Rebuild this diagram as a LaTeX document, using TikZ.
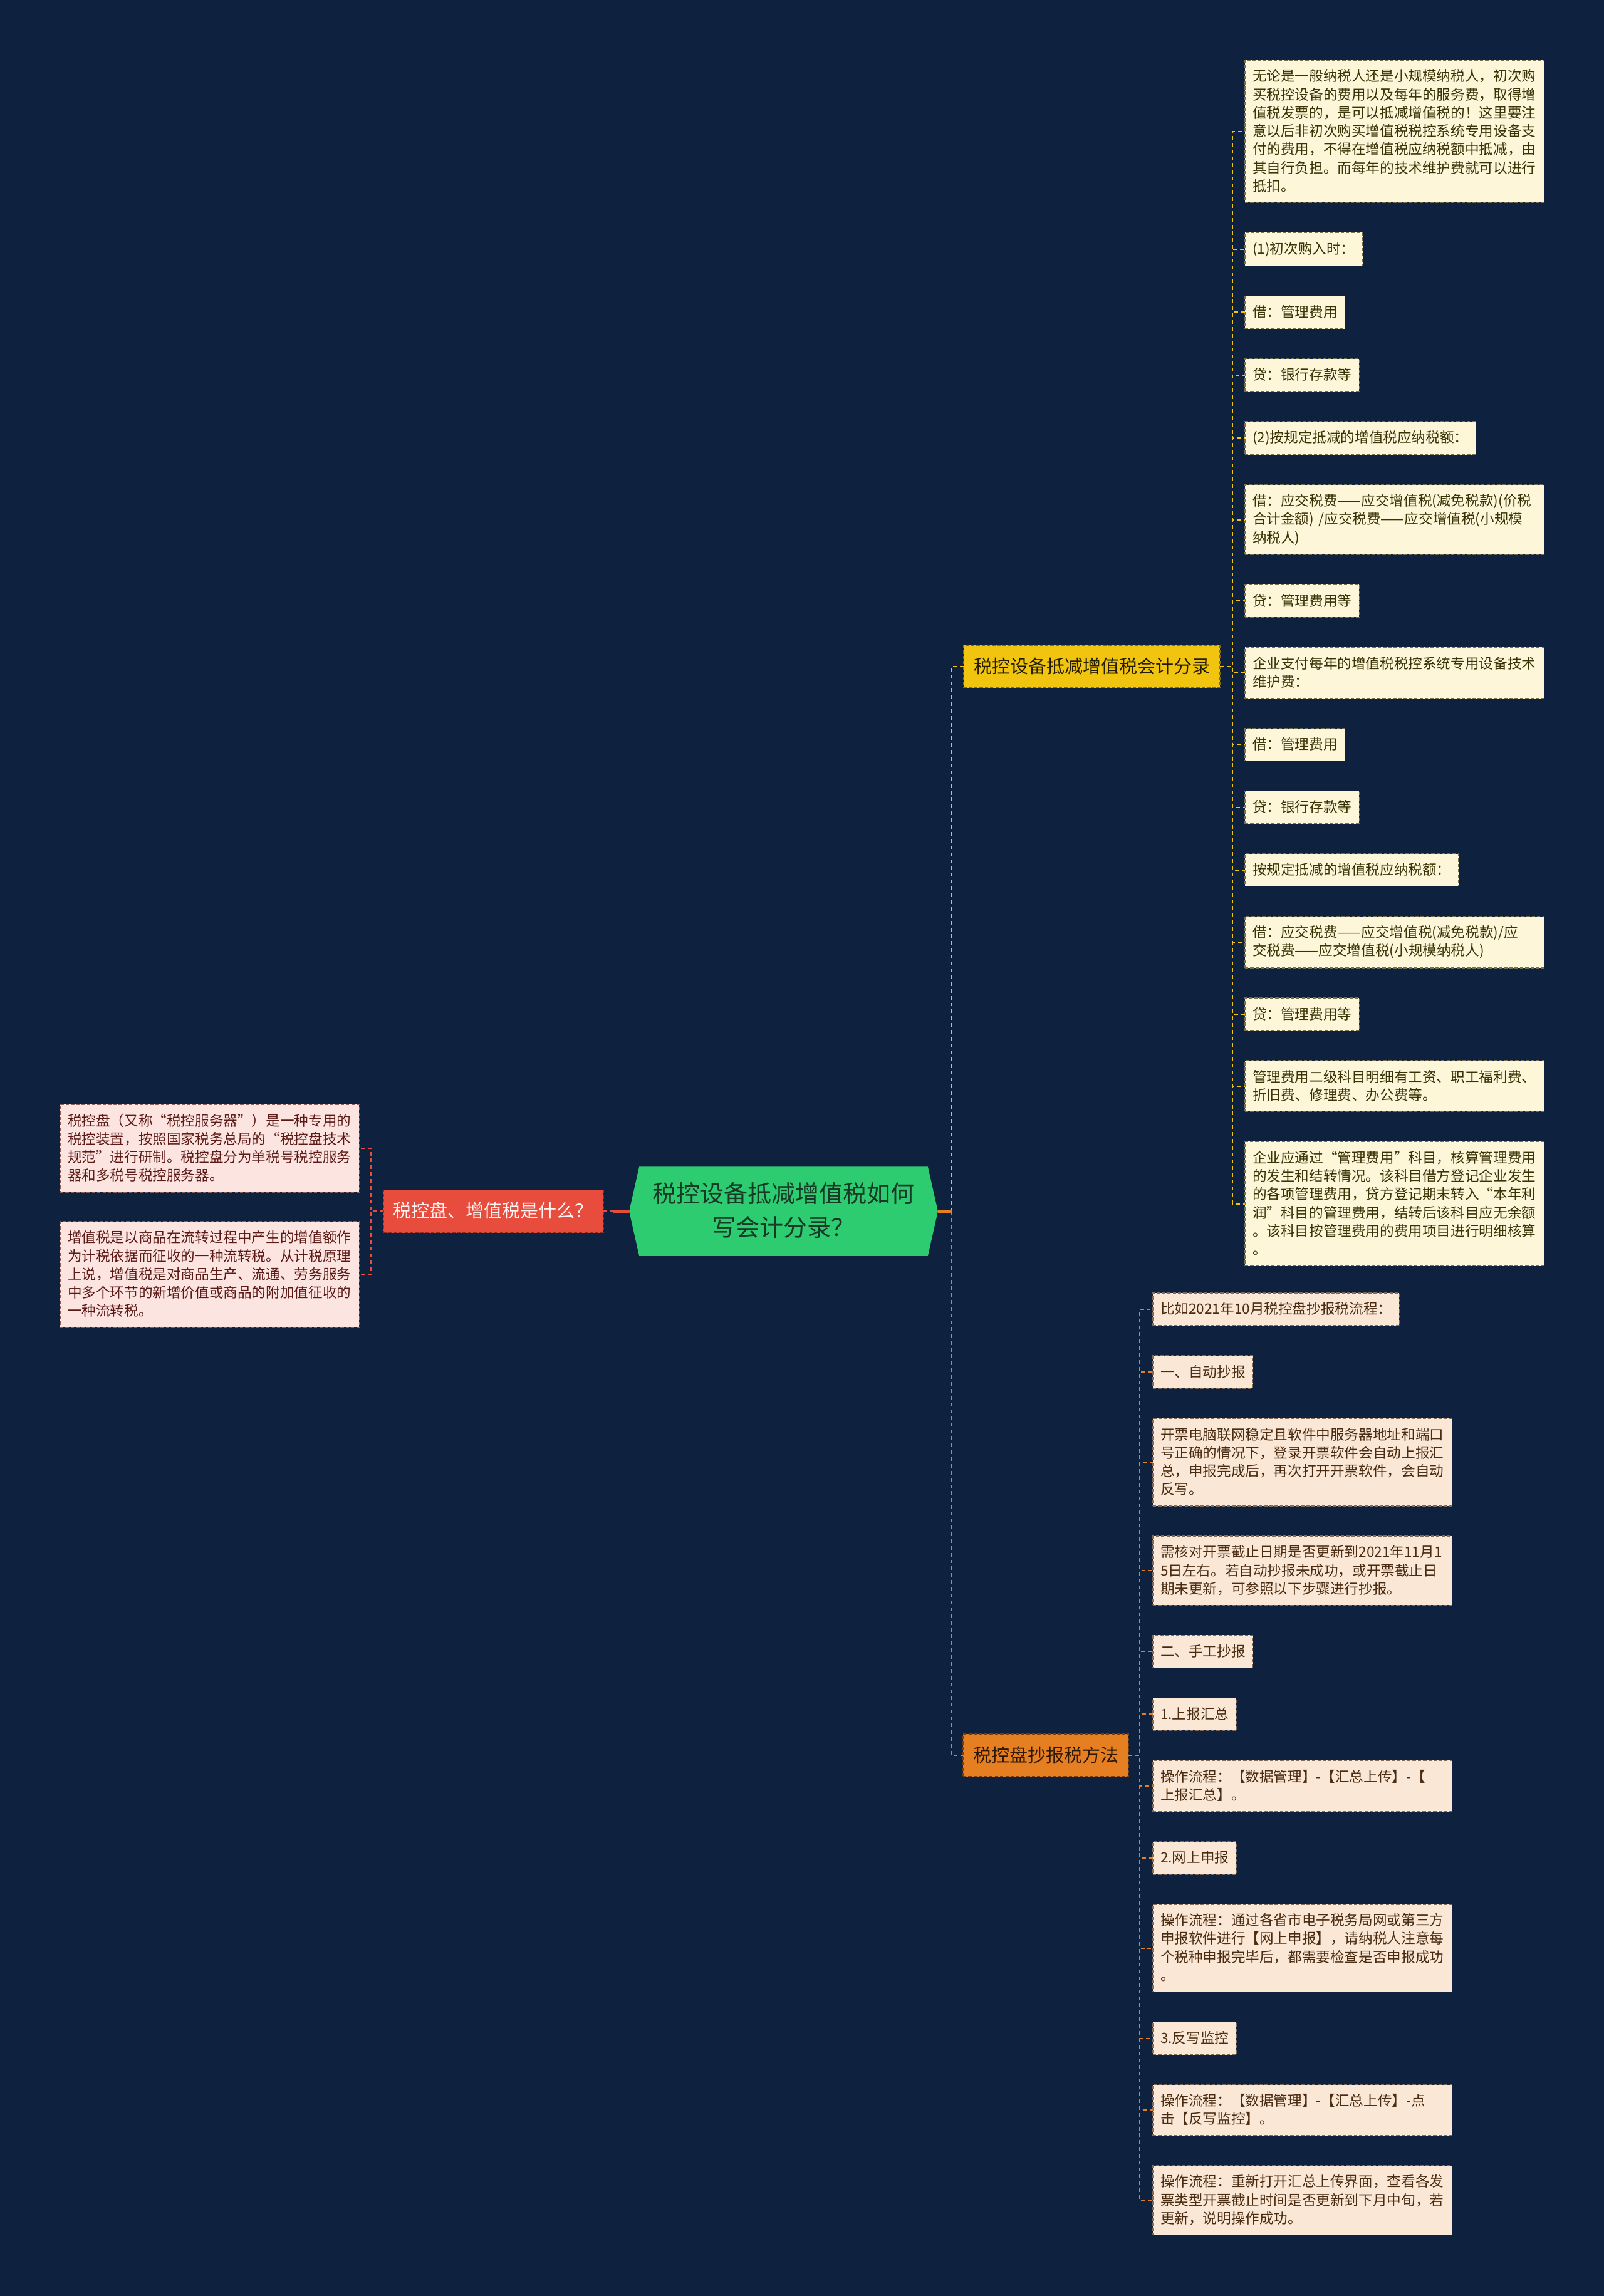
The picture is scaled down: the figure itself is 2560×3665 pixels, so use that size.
\documentclass[tikz,border=0pt]{standalone}
\usepackage{fontspec}
\newfontfamily\cjkfont{Noto Sans CJK SC}
\usetikzlibrary{positioning,backgrounds}

\definecolor{bgnavy}{HTML}{0E2240}
\definecolor{rootgreen}{HTML}{2ECC71}
\definecolor{roottext}{HTML}{163A26}
\definecolor{branchred}{HTML}{E74C3C}
\definecolor{branchyellow}{HTML}{F1C40F}
\definecolor{branchorange}{HTML}{E67E22}
\definecolor{leafpink}{HTML}{FCE4E1}
\definecolor{leafcream}{HTML}{FDF6D8}
\definecolor{leafpeach}{HTML}{FBE7D5}
\definecolor{inkred}{HTML}{5C1A16}
\definecolor{inkolive}{HTML}{3B3306}
\definecolor{inkbrown}{HTML}{4A2C12}

\newcommand\leafstrut{\rule[-0.15em]{0pt}{1em}}

\begin{document}
\begin{tikzpicture}[
  x=0.01cm, y=-0.01cm,
  leaf/.style={font=\cjkfont\fontsize{6.43pt}{8.31pt}\selectfont, align=left,
    inner xsep=0.12cm, inner ysep=0.147cm, outer sep=0pt, line width=0.4pt,
    dash pattern=on 1.5pt off 0.9pt,
    execute at begin node=\leafstrut, execute at end node=\leafstrut},
  wide/.style={text width=4.53cm},
  pinkleaf/.style={leaf, fill=leafpink, draw=inkred!70, text=inkred},
  creamleaf/.style={leaf, fill=leafcream, draw=inkolive!70, text=inkolive},
  peachleaf/.style={leaf, fill=leafpeach, draw=inkbrown!70, text=inkbrown},
  branch/.style={font=\cjkfont\fontsize{8.25pt}{10pt}\selectfont,
    inner xsep=0.16cm, inner ysep=0.195cm, outer sep=0pt, line width=0.5pt,
    dash pattern=on 1.5pt off 0.9pt, execute at begin node=\leafstrut},
  rootbox/.style={font=\cjkfont\fontsize{10.81pt}{15.4pt}\selectfont, align=center,
    text=roottext, minimum width=4.91cm, minimum height=1.41cm, inner sep=0pt,
    execute at begin node=\leafstrut, execute at end node=\leafstrut},
  link/.style={line width=0.6pt, dash pattern=on 1.7pt off 1.4pt},
  stub/.style={line width=1.3pt},
]
  \begin{scope}[on background layer]
    \fill[bgnavy] (0,0) rectangle (2560,3665);
  \end{scope}

  \node[rootbox] (root) at (1250.5,1933.5) {税控设备抵减增值税如何\\写会计分录？};
  \begin{scope}[on background layer]
    \fill[rootgreen] (root.west) -- ([xshift=0.16cm]root.north west) -- ([xshift=-0.16cm]root.north east)
      -- (root.east) -- ([xshift=-0.16cm]root.south east) -- ([xshift=0.16cm]root.south west) -- cycle;
  \end{scope}
  \coordinate[right=0.22cm of root.east] (rstub);
  \coordinate[left=0.26cm of root.west] (lstub);

  \node[branch, fill=branchred, draw=branchred!60!black, text=white!94!branchred, anchor=east] (red) at (963,1933.5) {税控盘、增值税是什么？};
  \node[branch, fill=branchyellow, draw=branchyellow!55!black, text=black!85!branchyellow, anchor=west] (yel) at (1538,1064) {税控设备抵减增值税会计分录};
  \node[branch, fill=branchorange, draw=branchorange!50!black, text=black!80!branchorange, anchor=west] (ora) at (1537,2802) {税控盘抄报税方法};

  \node[pinkleaf, wide, anchor=north west] (p1) at (96,1763) {税控盘（又称“税控服务器”）是一种专用的\\税控装置，按照国家税务总局的“税控盘技术\\规范”进行研制。税控盘分为单税号税控服务\\器和多税号税控服务器。};
  \node[pinkleaf, wide, below=0.47cm of p1.south west, anchor=north west] (p2) {增值税是以商品在流转过程中产生的增值额作\\为计税依据而征收的一种流转税。从计税原理\\上说，增值税是对商品生产、流通、劳务服务\\中多个环节的新增价值或商品的附加值征收的\\一种流转税。};

  \node[creamleaf, wide, anchor=north west] (y1) at (1987,96) {无论是一般纳税人还是小规模纳税人，初次购\\买税控设备的费用以及每年的服务费，取得增\\值税发票的，是可以抵减增值税的！这里要注\\意以后非初次购买增值税税控系统专用设备支\\付的费用，不得在增值税应纳税额中抵减，由\\其自行负担。而每年的技术维护费就可以进行\\抵扣。};
  \node[creamleaf, below=0.48cm of y1.south west, anchor=north west] (y2) {(1)初次购入时：};
  \node[creamleaf, below=0.48cm of y2.south west, anchor=north west] (y3) {借：管理费用};
  \node[creamleaf, below=0.48cm of y3.south west, anchor=north west] (y4) {贷：银行存款等};
  \node[creamleaf, below=0.48cm of y4.south west, anchor=north west] (y5) {(2)按规定抵减的增值税应纳税额：};
  \node[creamleaf, wide, below=0.48cm of y5.south west, anchor=north west] (y6) {借：应交税费——应交增值税(减免税款)(价税\\合计金额) /应交税费——应交增值税(小规模\\纳税人)};
  \node[creamleaf, below=0.48cm of y6.south west, anchor=north west] (y7) {贷：管理费用等};
  \node[creamleaf, wide, below=0.48cm of y7.south west, anchor=north west] (y8) {企业支付每年的增值税税控系统专用设备技术\\维护费：};
  \node[creamleaf, below=0.48cm of y8.south west, anchor=north west] (y9) {借：管理费用};
  \node[creamleaf, below=0.48cm of y9.south west, anchor=north west] (y10) {贷：银行存款等};
  \node[creamleaf, below=0.48cm of y10.south west, anchor=north west] (y11) {按规定抵减的增值税应纳税额：};
  \node[creamleaf, wide, below=0.48cm of y11.south west, anchor=north west] (y12) {借：应交税费——应交增值税(减免税款)/应\\交税费——应交增值税(小规模纳税人)};
  \node[creamleaf, below=0.48cm of y12.south west, anchor=north west] (y13) {贷：管理费用等};
  \node[creamleaf, wide, below=0.48cm of y13.south west, anchor=north west] (y14) {管理费用二级科目明细有工资、职工福利费、\\折旧费、修理费、办公费等。};
  \node[creamleaf, wide, below=0.48cm of y14.south west, anchor=north west] (y15) {企业应通过“管理费用”科目，核算管理费用\\的发生和结转情况。该科目借方登记企业发生\\的各项管理费用，贷方登记期末转入“本年利\\润”科目的管理费用，结转后该科目应无余额\\。该科目按管理费用的费用项目进行明细核算\\。};

  \node[peachleaf, anchor=north west] (o1) at (1840,2064) {比如2021年10月税控盘抄报税流程：};
  \node[peachleaf, below=0.48cm of o1.south west, anchor=north west] (o2) {一、自动抄报};
  \node[peachleaf, wide, below=0.48cm of o2.south west, anchor=north west] (o3) {开票电脑联网稳定且软件中服务器地址和端口\\号正确的情况下，登录开票软件会自动上报汇\\总，申报完成后，再次打开开票软件，会自动\\反写。};
  \node[peachleaf, wide, below=0.48cm of o3.south west, anchor=north west] (o4) {需核对开票截止日期是否更新到2021年11月1\\5日左右。若自动抄报未成功，或开票截止日\\期未更新，可参照以下步骤进行抄报。};
  \node[peachleaf, below=0.48cm of o4.south west, anchor=north west] (o5) {二、手工抄报};
  \node[peachleaf, below=0.48cm of o5.south west, anchor=north west] (o6) {1.上报汇总};
  \node[peachleaf, wide, below=0.48cm of o6.south west, anchor=north west] (o7) {操作流程：【数据管理】-【汇总上传】-【\\上报汇总】。};
  \node[peachleaf, below=0.48cm of o7.south west, anchor=north west] (o8) {2.网上申报};
  \node[peachleaf, wide, below=0.48cm of o8.south west, anchor=north west] (o9) {操作流程：通过各省市电子税务局网或第三方\\申报软件进行【网上申报】，请纳税人注意每\\个税种申报完毕后，都需要检查是否申报成功\\。};
  \node[peachleaf, below=0.48cm of o9.south west, anchor=north west] (o10) {3.反写监控};
  \node[peachleaf, wide, below=0.48cm of o10.south west, anchor=north west] (o11) {操作流程：【数据管理】-【汇总上传】-点\\击【反写监控】。};
  \node[peachleaf, wide, below=0.48cm of o11.south west, anchor=north west] (o12) {操作流程：重新打开汇总上传界面，查看各发\\票类型开票截止时间是否更新到下月中旬，若\\更新，说明操作成功。};

  \draw[link, branchred] (red.east) -- (root.west);
  \draw[stub, branchred] (root.west) -- (lstub);
  \draw[link, branchyellow] (rstub) |- (yel.west);
  \draw[link, branchorange] (rstub) |- (ora.west);
  \draw[stub, branchorange] (root.east) -- (rstub);
  \foreach \i in {1,2}
    \draw[link, branchred] (red.west) -- ++(-20,0) |- (p\i.east);
  \foreach \i in {1,...,15}
    \draw[link, branchyellow] (yel.east) -- ++(20,0) |- (y\i.west);
  \foreach \i in {1,...,12}
    \draw[link, branchorange] (ora.east) -- ++(18,0) |- (o\i.west);
\end{tikzpicture}
\end{document}
